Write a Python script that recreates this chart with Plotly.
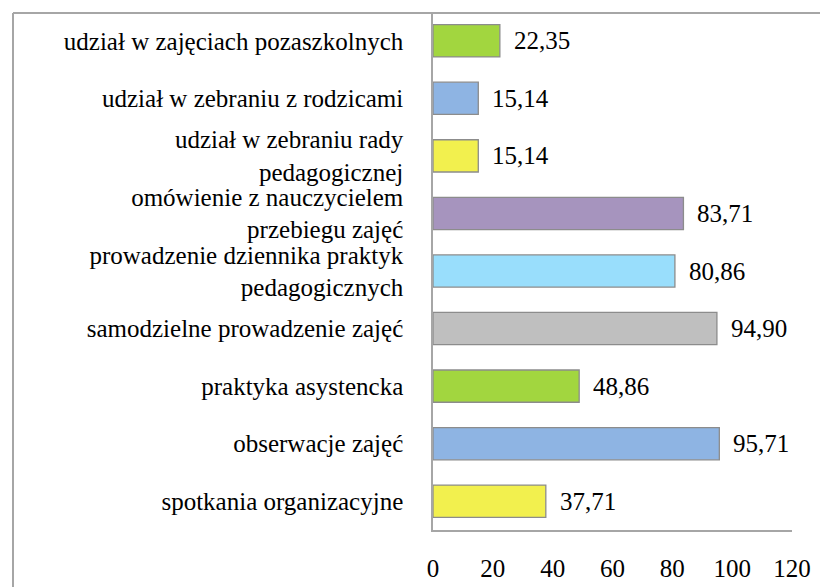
import plotly.graph_objects as go

categories = [
    "udział w zajęciach pozaszkolnych",
    "udział w zebraniu z rodzicami",
    "udział w zebraniu rady<br>pedagogicznej",
    "omówienie z nauczycielem<br>przebiegu zajęć",
    "prowadzenie dziennika praktyk<br>pedagogicznych",
    "samodzielne prowadzenie zajęć",
    "praktyka asystencka",
    "obserwacje zajęć",
    "spotkania organizacyjne",
]
values = [22.35, 15.14, 15.14, 83.71, 80.86, 94.90, 48.86, 95.71, 37.71]
colors = ["#A2D63F", "#8EB4E3", "#F2F04E", "#A694BE", "#99DEFC",
          "#BFBFBF", "#A2D63F", "#8EB4E3", "#F2F04E"]
x_ticks = [0, 20, 40, 60, 80, 100, 120]

FONT = "Liberation Serif"
FS = 25

# figure geometry (page has an 8px body offset)
W, H = 820, 579
L, T, PW, PH = 425, 4, 359, 518
R, B = W - L - PW, H - T - PH


def px_to_paper_x(px):
    return (px - L) / PW


def px_to_paper_y(py):
    return (T + PH - py) / PH


fig = go.Figure()
fig.add_trace(go.Bar(
    y=categories, x=values, orientation="h",
    marker=dict(color=colors, line=dict(color="#8C8C8C", width=1.3)),
    width=0.56,
    hoverinfo="skip",
))

for cat, v in zip(categories, values):
    fig.add_annotation(
        x=v, y=cat, xref="x", yref="y",
        text=f"{v:.2f}".replace(".", ","),
        showarrow=False, xanchor="left", yanchor="middle",
        xshift=12, font=dict(family=FONT, size=FS, color="#000000"),
    )

# outer chart border (top and left visible)
fig.add_shape(type="line", xref="paper", yref="paper",
              x0=px_to_paper_x(5), x1=px_to_paper_x(W + 5),
              y0=px_to_paper_y(5), y1=px_to_paper_y(5),
              line=dict(color="#A6A6A6", width=2))
fig.add_shape(type="line", xref="paper", yref="paper",
              x0=px_to_paper_x(5), x1=px_to_paper_x(5),
              y0=px_to_paper_y(5), y1=px_to_paper_y(H + 5),
              line=dict(color="#A6A6A6", width=2))

fig.update_layout(
    width=W, height=H,
    margin=dict(l=L, r=R, t=T, b=B, autoexpand=False),
    paper_bgcolor="white", plot_bgcolor="white",
    showlegend=False,
    font=dict(family=FONT, size=FS, color="#000000"),
    xaxis=dict(
        range=[0, 120], tickvals=x_ticks, ticktext=[str(t) for t in x_ticks],
        showgrid=False, zeroline=False, automargin=False,
        showline=True, linecolor="#A6A6A6", linewidth=1.5,
        ticks="", ticklabelstandoff=15,
        tickfont=dict(family=FONT, size=FS, color="#000000"),
        fixedrange=True,
    ),
    yaxis=dict(
        autorange="reversed", automargin=False,
        showgrid=False, zeroline=False,
        showline=True, linecolor="#A6A6A6", linewidth=1.5,
        ticks="", ticklabelstandoff=23,
        tickfont=dict(family=FONT, size=FS, color="#000000"),
        fixedrange=True,
    ),
)

fig.write_html("out.html")
